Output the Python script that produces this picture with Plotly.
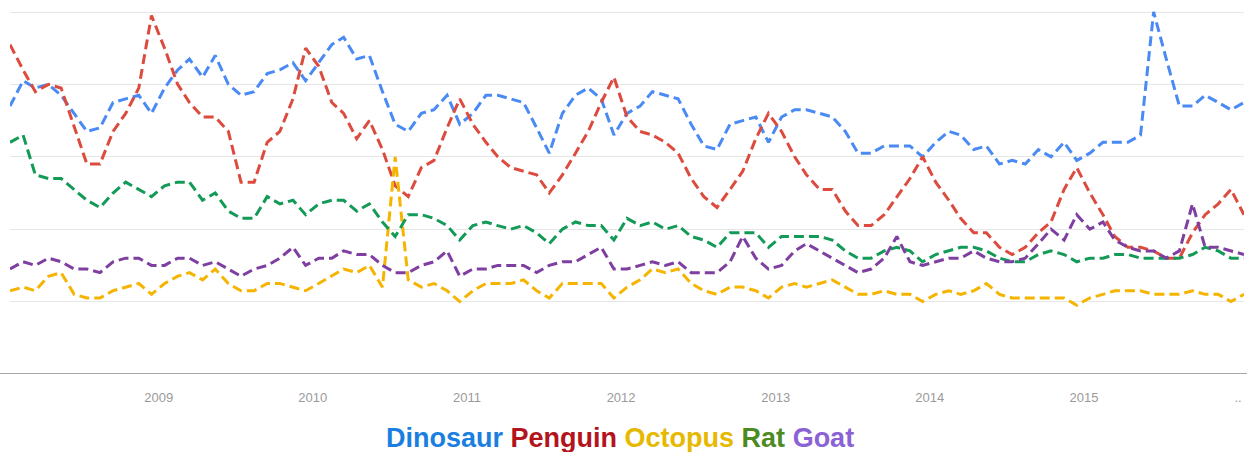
import plotly.graph_objects as go

# Monthly points, Jan 2008 .. Jan 2016 (plotted mid-month)
months = [f"{2008 + i // 12}-{i % 12 + 1:02d}-15" for i in range(97)]

dinosaur = [74, 81, 79, 80, 77, 72, 67, 68, 75, 76, 77, 72,
            79, 84, 87, 82, 88, 80, 77, 78, 83, 84, 86, 81,
            86, 91, 93, 87, 88, 78, 69, 67, 72, 73, 77, 69,
            72, 77, 77, 76, 75, 68, 61, 72, 77, 79, 76, 66,
            72, 74, 78, 77, 76, 69, 63, 62, 69, 70, 71, 64,
            71, 73, 73, 72, 71, 67, 61, 61, 63, 63, 63, 60,
            64, 67, 66, 62, 63, 58, 59, 58, 62, 60, 64, 59,
            61, 64, 64, 64, 66, 100, 87, 74, 74, 77, 75, 73, 75]

penguin = [91, 84, 78, 80, 79, 68, 58, 58, 67, 72, 79, 99,
           90, 80, 75, 71, 71, 67, 53, 53, 64, 67, 76, 90,
           85, 75, 72, 65, 70, 62, 52, 49, 57, 59, 68, 76,
           69, 64, 60, 57, 56, 55, 50, 55, 61, 67, 75, 82,
           71, 67, 66, 64, 61, 54, 49, 46, 51, 56, 65, 72,
           67, 60, 55, 51, 51, 45, 41, 41, 44, 49, 54, 60,
           53, 48, 43, 39, 39, 35, 33, 35, 39, 42, 51, 57,
           50, 44, 38, 35, 35, 34, 32, 32, 39, 44, 47, 51, 44]

octopus = [23, 24, 23, 27, 28, 22, 21, 21, 23, 24, 25, 22,
           25, 27, 28, 26, 29, 25, 23, 23, 25, 25, 24, 23,
           25, 27, 29, 28, 30, 24, 60, 26, 24, 25, 23, 20,
           23, 25, 25, 25, 26, 23, 21, 25, 25, 25, 25, 21,
           24, 26, 29, 28, 29, 25, 23, 22, 24, 24, 23, 21,
           24, 25, 24, 25, 26, 24, 22, 22, 23, 22, 22, 20,
           22, 23, 22, 23, 25, 22, 21, 21, 21, 21, 21, 19,
           21, 22, 23, 23, 23, 22, 22, 22, 23, 22, 22, 20, 22]

rat = [64, 66, 55, 54, 54, 51, 48, 46, 50, 53, 51, 49,
       52, 53, 53, 48, 50, 45, 43, 43, 49, 47, 48, 44,
       47, 48, 48, 45, 47, 42, 38, 44, 44, 43, 41, 37,
       41, 42, 41, 40, 41, 39, 36, 40, 42, 41, 41, 37,
       43, 41, 42, 40, 41, 38, 37, 35, 39, 39, 39, 35,
       38, 38, 38, 38, 37, 34, 32, 32, 34, 35, 34, 31,
       33, 34, 35, 35, 34, 32, 31, 31, 33, 34, 33, 31,
       32, 32, 33, 33, 32, 32, 32, 32, 33, 35, 34, 32, 32]

goat = [29, 31, 30, 32, 31, 29, 29, 28, 31, 32, 32, 30,
        30, 32, 32, 30, 31, 29, 27, 29, 30, 32, 35, 30,
        32, 32, 34, 33, 33, 30, 28, 28, 30, 31, 34, 27,
        29, 29, 30, 30, 30, 28, 30, 31, 31, 33, 35, 29,
        29, 30, 31, 30, 31, 28, 28, 28, 31, 38, 32, 29,
        30, 34, 36, 34, 32, 30, 28, 29, 32, 38, 31, 30,
        31, 32, 32, 34, 32, 31, 31, 32, 36, 40, 37, 44,
        40, 42, 37, 35, 34, 34, 32, 34, 47, 35, 35, 34, 33]

tick_vals = ["2009-01-01", "2010-01-01", "2011-01-01", "2012-01-01",
             "2013-01-01", "2014-01-01", "2015-01-01", "2016-01-01"]
tick_text = ["2009", "2010", "2011", "2012", "2013", "2014", "2015", ".."]

series = [
    ("Dinosaur", dinosaur, "#4a8af4", "#1a7fe0"),
    ("Penguin", penguin, "#dd4b3e", "#b3141b"),
    ("Octopus", octopus, "#f5b400", "#e6b800"),
    ("Rat", rat, "#139a57", "#4e8a22"),
    ("Goat", goat, "#7e3fa0", "#8a62d6"),
]

fig = go.Figure()
for name, vals, col, _ in series:
    fig.add_trace(go.Scatter(
        x=months, y=vals, name=name, mode="lines",
        line=dict(color=col, width=3, dash="10px,5px"),
        showlegend=False,
    ))

legend_html = " ".join(
    f'<span style="color:{tc}">{name}</span>' for name, _, _, tc in series
)

fig.update_layout(
    width=1247, height=452,
    margin=dict(l=10, r=3, t=1, b=78),
    paper_bgcolor="white", plot_bgcolor="white",
    font=dict(family="Liberation Sans, Arial, sans-serif"),
    xaxis=dict(
        range=["2008-01-15", "2016-01-15"],
        showgrid=False, zeroline=False, showline=False,
        tickmode="array", tickvals=tick_vals, ticktext=tick_text,
        tickfont=dict(size=13, color="#9a9a9a"),
        ticks="", ticklabelstandoff=14,
    ),
    yaxis=dict(
        range=[0, 103.04],
        tickmode="array", tickvals=[20, 40, 60, 80, 100],
        showticklabels=False, showgrid=True,
        gridcolor="#e6e6e6", gridwidth=1,
        zeroline=False, showline=False,
    ),
    shapes=[dict(
        type="line", xref="paper", yref="y",
        x0=-0.01, x1=1.01, y0=0, y1=0,
        line=dict(color="#a8a8a8", width=2),
    )],
    annotations=[dict(
        xref="paper", yref="paper", x=0.494, y=-0.172,
        xanchor="center", yanchor="middle", showarrow=False,
        text=f"<b>{legend_html}</b>",
        font=dict(size=27, family="Liberation Sans, Arial, sans-serif"),
    )],
)

fig.write_html(
    "out.html",
    config={"displayModeBar": False},
    post_script="document.body.style.margin='0';document.body.style.overflow='hidden';",
)
